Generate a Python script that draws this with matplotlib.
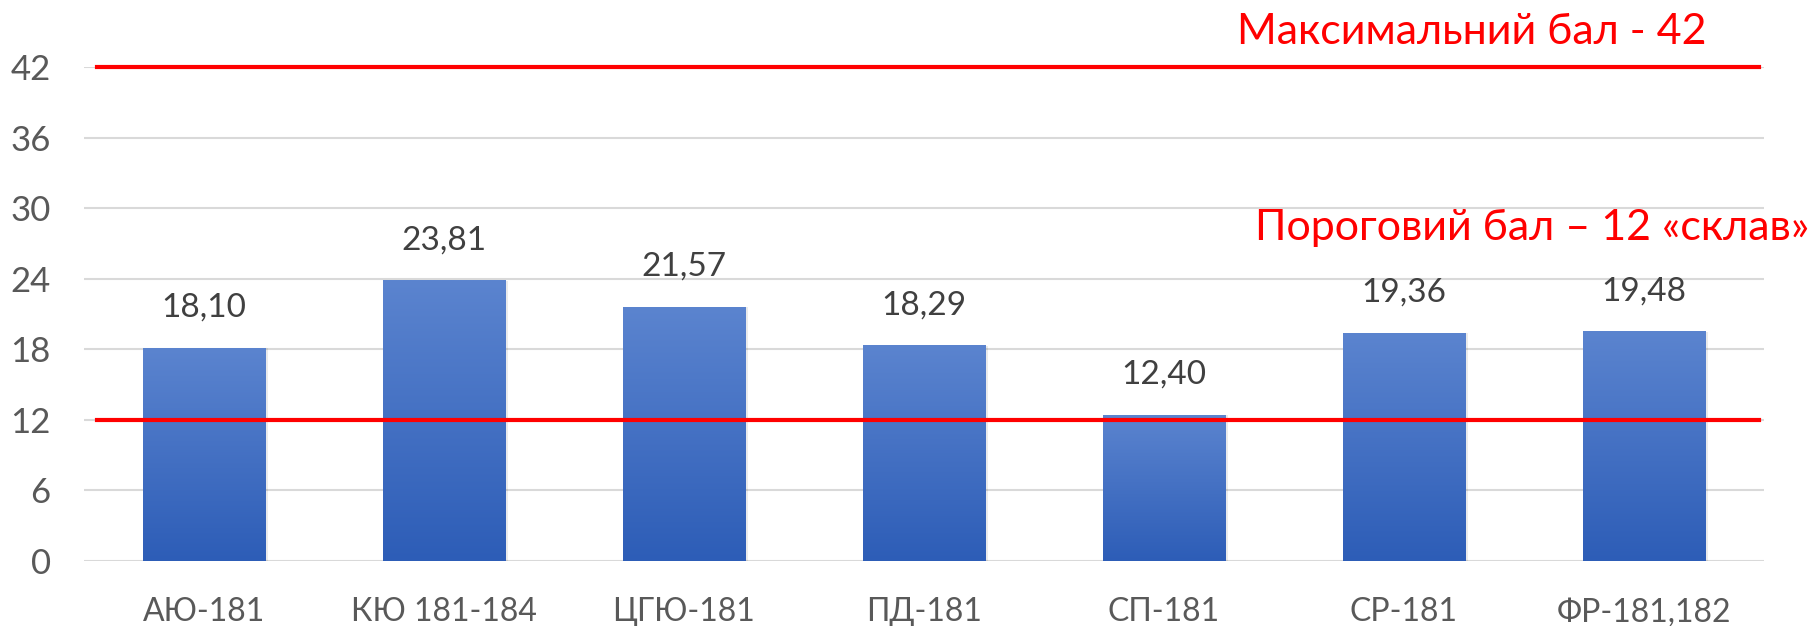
import numpy as np
import matplotlib
matplotlib.use("Agg")
import matplotlib.pyplot as plt
from matplotlib.colors import LinearSegmentedColormap

plt.rcParams['font.family'] = ['Lato', 'DejaVu Sans']

groups = ["АЮ-181", "КЮ 181-184", "ЦГЮ-181", "ПД-181", "СП-181", "СР-181", "ФР-181,182"]
scores = [18.10, 23.81, 21.57, 18.29, 12.40, 19.36, 19.48]
y_ticks = [0, 6, 12, 18, 24, 30, 36, 42]
max_score = 42
threshold = 12
max_label = "Максимальний бал - 42"
threshold_label = "Пороговий бал – 12 «склав»"

fig = plt.figure(figsize=(18.14, 6.26), dpi=100)
ax = fig.add_axes([0.0463, 0.1038, 0.926, 0.789])

x = np.arange(len(groups))
width = 0.51
bars = ax.bar(x, scores, width=width, color="none", zorder=3)

# vertical gradient for each bar (light top -> dark bottom)
cmap = LinearSegmentedColormap.from_list("bar", ["#2D5DB7", "#5B84CF"])
grad = np.linspace(0, 1, 256).reshape(-1, 1)
for b in bars:
    x0, w, h = b.get_x(), b.get_width(), b.get_height()
    # soft shadow
    ax.bar(x0 + w / 2 + 0.008, h, width=w + 0.01, color="#000000", alpha=0.08, zorder=2)
    ax.imshow(grad, extent=[x0, x0 + w, 0, h], origin="lower", aspect="auto",
              cmap=cmap, zorder=3)

for xi, v in zip(x, scores):
    ax.text(xi, v + 2.2, f"{v:.2f}".replace(".", ","), ha="center", va="bottom",
            fontsize=24, color="#404040")

ax.axhline(max_score, xmin=0.008, xmax=0.997, color="#FF0000", lw=3, zorder=4, clip_on=False)
ax.axhline(threshold, xmin=0.008, xmax=0.997, color="#FF0000", lw=3, zorder=4)

ax.text(0.826, 1.071, max_label, transform=ax.transAxes, ha="center", va="center",
        fontsize=31, color="#FF0000")
ax.text(0.862, 0.674, threshold_label, transform=ax.transAxes, ha="center", va="center",
        fontsize=31, color="#FF0000")

ax.set_xlim(-0.5, len(groups) - 0.5)
ax.set_ylim(0, max_score)
ax.set_yticks(y_ticks)
ax.set_xticks(x)
ax.set_xticklabels(groups)
ax.tick_params(axis="both", length=0, labelcolor="#595959")
ax.tick_params(axis="y", pad=24, labelsize=25)
ax.tick_params(axis="x", pad=26, labelsize=23)
ax.grid(axis="y", color="#D9D9D9", lw=1.5, zorder=0)
ax.set_axisbelow(True)
for s in ax.spines.values():
    s.set_visible(False)

fig.savefig("out.png", dpi=100)
